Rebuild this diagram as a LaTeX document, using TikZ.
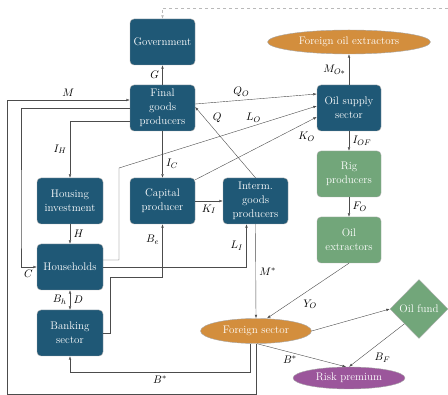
\documentclass[tikz,border=0pt]{standalone}
\usetikzlibrary{arrows.meta,shapes.geometric}

\definecolor{boxblue}{HTML}{1F5876}
\definecolor{oilgreen}{HTML}{72A67A}
\definecolor{foreignorange}{HTML}{D38E3D}
\definecolor{riskpurple}{HTML}{9B569B}

\tikzset{
  sector/.style={rectangle, rounded corners=4pt, draw=black!35, fill=boxblue,
    text=white, align=center, minimum width=65pt, minimum height=46pt, inner sep=2pt},
  oilbox/.style={sector, fill=oilgreen},
  abroad/.style={ellipse, draw=black!35, fill=foreignorange, text=white, inner sep=0pt},
  flow/.style={draw=black!70, line width=0.4pt, -{Latex[length=3.5pt,width=2.6pt]}},
}

\begin{document}
\begin{tikzpicture}[x=1pt, y=-1pt, font=\fontsize{11}{14}\selectfont]
    \useasboundingbox (0,0) rectangle (448,395);

    % 各部门
    \node[sector] (gov) at (162.5,42) {Government};
    \node[sector] (final) at (162.5,108) {Final\\goods\\producers};
    \node[sector, minimum width=66pt] (housing) at (70,201) {Housing\\investment};
    \node[sector] (capital) at (162.5,201) {Capital\\producer};
    \node[sector] (interm) at (255.5,201) {Interm.\\goods\\producers};
    \node[sector, minimum width=66pt] (hh) at (70,267) {Households};
    \node[sector, minimum width=66pt] (bank) at (70,333) {Banking\\sector};

    % 石油部门
    \node[sector, minimum width=64pt] (oss) at (349,108) {Oil supply\\sector};
    \node[oilbox, minimum width=64pt] (rig) at (349,174) {Rig\\producers};
    \node[oilbox, minimum width=64pt] (oext) at (349,240) {Oil\\extractors};
    \node[diamond, draw=black!35, fill=oilgreen, text=white, inner sep=0pt,
          minimum width=58pt, minimum height=59pt] (fund) at (419,309) {Oil fund};

    % 国外
    \node[abroad, minimum width=163pt, minimum height=24pt] (fox) at (349,42) {Foreign oil extractors};
    \node[abroad, minimum width=111pt, minimum height=25pt] (fsec) at (256,331) {Foreign sector};
    \node[abroad, fill=riskpurple, minimum width=112pt, minimum height=22pt] (risk) at (349,378) {Risk premium};

    \coordinate (dashend) at (448,8);
    \coordinate (mleft) at (7,394);

    % 国内流向
    \draw[flow] (final) -- node[left] {$G$} (gov);
    \draw[flow, draw=gray!55, dashed] (dashend) -| (gov.north);
    \draw[flow] (fsec.south) |- (mleft) |- node[pos=0.75, above] {$M$} ([yshift=8pt]final.west);
    \draw[flow] (final.west) -| (21,230) |- node[pos=0.5, below right, inner sep=1pt, xshift=2pt, yshift=-2pt] {$C$} (hh.west);
    \draw[flow] ([yshift=-13pt]final.west) -| node[pos=0.75, left] {$I_H$} (housing.north);
    \draw[flow] (final) -- node[pos=0.7, right] {$I_C$} (capital);
    \draw[flow] (housing) -- node[right] {$H$} (hh);
    \draw[flow, {Latex[length=3.5pt,width=2.6pt]}-{Latex[length=3.5pt,width=2.6pt]}]
        (hh) -- node[left] {$B_h$} node[right] {$D$} (bank);
    \draw[flow] (capital) -- node[below] {$K_I$} (interm);
    \draw[flow] (interm.north) -- node[pos=0.85, right, xshift=5pt] {$Q$} ([yshift=1pt]final.east);
    \draw[flow] (bank.east) -| (110,277) -| node[pos=0.85, left] {$B_e$} (capital.south);
    \draw[flow] (hh.east) -| node[pos=0.75, left] {$L_I$} ([xshift=-9pt]interm.south);
    \draw[flow] (interm.south) -- node[right] {$M^*$} (fsec.north);

    % 石油流向
    \draw[flow] ([yshift=4pt]final.east) -- node[pos=0.38, above] {$Q_O$} ([yshift=14pt]oss.west);
    \draw[flow] ([yshift=7pt]hh.east) -| (119,168) -- node[pos=0.68, above] {$L_O$} ([yshift=2pt]oss.west);
    \draw[flow] ([yshift=-2pt]capital.north east) -- node[pos=0.82, below right] {$K_O$} ([yshift=-9pt]oss.west);
    \draw[flow] (oss) -- node[left] {$M_{O*}$} (fox);
    \draw[flow] (oss) -- node[right] {$I_{OF}$} (rig);
    \draw[flow] (rig) -- node[right] {$F_O$} (oext);
    \draw[flow] (oext.south) -- node[pos=0.6, below right] {$Y_O$} ([xshift=11pt]fsec.north);

    % 国外资产
    \draw[flow] (fsec.east) -- (fund.west);
    \draw[flow] (fund.south west) -- node[pos=0.6, below right] {$B_F$} (risk.north);
    \draw[flow] ([xshift=1pt]fsec.south) -- node[pos=0.37, below] {$B^*$} ([xshift=-3pt]risk.north);
    \draw[flow] ([xshift=-6pt]fsec.south) -- ++(0,28.5) -| node[pos=0.25, below] {$B^*$} (bank.south);
\end{tikzpicture}
\end{document}
